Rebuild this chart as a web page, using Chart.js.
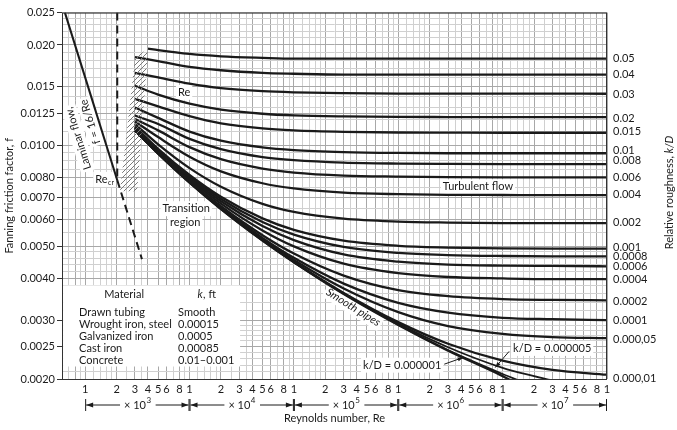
<!DOCTYPE html>
<html>
<head>
<meta charset="utf-8">
<script src="https://cdn.jsdelivr.net/npm/chart.js@4.4.1/dist/chart.umd.min.js"></script>
<style>
  html, body { margin: 0; padding: 0; background: #fff; }
  #wrap { width: 677px; height: 430px; }
</style>
</head>
<body>
<div id="wrap"><canvas id="chart"></canvas></div>
<script>
// Reynolds numbers where the roughness curves were read
const reynolds = [3000, 5000, 1e4, 2e4, 5e4, 1e5, 3e5, 1e6, 3e6, 1e7, 3e7, 1e8];
// top curve starts a bit later, at the hatched band edge
const startRe = [4000, 3000, 3000, 3000, 3000, 3000, 3000, 3000, 3000, 3000, 3000, 3000, 3000, 3000, 3000, 3000, 3000, 3000];

// Fanning friction factor
const kd_05 = [0.0195, 0.0193, 0.0188, 0.0185, 0.0183, 0.0182, 0.0182, 0.0182, 0.0182, 0.0182, 0.0182, 0.0182];
const kd_04 = [0.0184, 0.0179, 0.0172, 0.0168, 0.0165, 0.0164, 0.0163, 0.0163, 0.0163, 0.0163, 0.0163, 0.0163];
const kd_03 = [0.0165, 0.0160, 0.01532, 0.01485, 0.01454, 0.01443, 0.01435, 0.01431, 0.0143, 0.0143, 0.0143, 0.01429];
const kd_02 = [0.0151, 0.0142, 0.01334, 0.01281, 0.01245, 0.01231, 0.01222, 0.01218, 0.01217, 0.01216, 0.01216, 0.01216];
const kd_015 = [0.0138, 0.0131, 0.01224, 0.01165, 0.01125, 0.0111, 0.01099, 0.01094, 0.01093, 0.01092, 0.01092, 0.01092];
const kd_01 = [0.0130, 0.0121, 0.01101, 0.01034, 0.00987, 0.00969, 0.00956, 0.0095, 0.00948, 0.00948, 0.00948, 0.00948];
const kd_008 = [0.0123, 0.0116, 0.01047, 0.00975, 0.00923, 0.00904, 0.00889, 0.00883, 0.00881, 0.0088, 0.0088, 0.0088];
const kd_006 = [0.0120, 0.0111, 0.00989, 0.0091, 0.00853, 0.0083, 0.00813, 0.00807, 0.00804, 0.00803, 0.00803, 0.00803];
const kd_004 = [0.0118, 0.0106, 0.00926, 0.00837, 0.00771, 0.00744, 0.00723, 0.00715, 0.00712, 0.00711, 0.0071, 0.0071];
const kd_002 = [0.0116, 0.01008, 0.00856, 0.00753, 0.00669, 0.00633, 0.00604, 0.00592, 0.00588, 0.00586, 0.00586, 0.00586];
const kd_001 = [0.0114, 0.00978, 0.00817, 0.00703, 0.00605, 0.00559, 0.00519, 0.00501, 0.00495, 0.00492, 0.00491, 0.00491];
const kd_0008 = [0.0113, 0.00971, 0.00809, 0.00692, 0.0059, 0.00541, 0.00497, 0.00477, 0.0047, 0.00467, 0.00466, 0.00466];
const kd_0006 = [0.0113, 0.00965, 0.008, 0.00681, 0.00574, 0.00521, 0.00472, 0.00449, 0.0044, 0.00437, 0.00436, 0.00435];
const kd_0004 = [0.0112, 0.00959, 0.00792, 0.0067, 0.00557, 0.00499, 0.00443, 0.00415, 0.00404, 0.004, 0.00398, 0.00398];
const kd_0002 = [0.0112, 0.00953, 0.00783, 0.00658, 0.00539, 0.00475, 0.00408, 0.00369, 0.00354, 0.00347, 0.00345, 0.00344];
const kd_0001 = [0.0111, 0.00949, 0.00779, 0.00652, 0.00529, 0.00461, 0.00386, 0.00338, 0.00316, 0.00305, 0.00302, 0.003];
const kd_00005 = [0.0111, 0.00948, 0.00777, 0.00649, 0.00524, 0.00454, 0.00373, 0.00317, 0.00288, 0.00273, 0.00267, 0.00265];
const kd_00001 = [0.0111, 0.00947, 0.00775, 0.00646, 0.0052, 0.00448, 0.00362, 0.00296, 0.00255, 0.00227, 0.00213, 0.00206];

// smooth pipes and the two nearly-smooth curves that split from it
const smoothRe = [3000, 5000, 1e4, 2e4, 5e4, 1e5, 3e5, 1e6, 3e6, 1e7, 1.2e7];
const smoothF = [0.0111, 0.00946, 0.00774, 0.00645, 0.00519, 0.00447, 0.00359, 0.0029, 0.00243, 0.00204, 0.00198];
const kd5e6Re = [1e5, 3e5, 1e6, 3e6, 1e7, 2e7, 3e7];
const kd5e6F = [0.00447, 0.00361, 0.00293, 0.00249, 0.00216, 0.00204, 0.00198];
const kd1e6Re = [1e5, 3e5, 1e6, 3e6, 1e7, 2e7];
const kd1e6F = [0.00447, 0.0036, 0.00291, 0.00244, 0.00207, 0.0019];

// laminar line f = 16/Re and the critical Reynolds number
const laminarRe = [640, 2030];
const laminarF = [0.025, 0.00788];
const laminarDashRe = [2030, 3500];
const laminarDashF = [0.00788, 0.00457];
const reCritRe = [2030, 2030];
const reCritF = [0.025, 0.00788];

// hatched transition band (corners)
const bandRe = [3010, 4010, 3150, 2160, 3010];
const bandF = [0.0184, 0.0195, 0.0073, 0.0073, 0.0184];

// axes
const fTicks = [0.002, 0.0025, 0.003, 0.004, 0.005, 0.006, 0.007, 0.008, 0.01, 0.0125, 0.015, 0.02, 0.025];
const fTickLabels = ['0.0020', '0.0025', '0.0030', '0.0040', '0.0050', '0.0060', '0.0070', '0.0080', '0.0100', '0.0125', '0.015', '0.020', '0.025'];
const reLabelMant = [1, 2, 3, 4, 5, 6, 8];
const reGridMant = [1, 1.2, 1.4, 1.6, 1.8, 2, 2.5, 3, 3.5, 4, 5, 6, 7, 8, 9];
const kdLabels = ['0.05', '0.04', '0.03', '0.02', '0.015', '0.01', '0.008', '0.006', '0.004', '0.002', '0.001', '0.0008', '0.0006', '0.0004', '0.0002', '0.0001', '0.000,05', '0.000,01'];
const kdLabelF = [0.01819, 0.01631, 0.01424, 0.01209, 0.011, 0.00967, 0.00903, 0.008, 0.00712, 0.00589, 0.00494, 0.00464, 0.00434, 0.00397, 0.00342, 0.00299, 0.00262, 0.002014];

const materials = ['Drawn tubing', 'Wrought iron, steel', 'Galvanized iron', 'Cast iron', 'Concrete'];
const kFeet = ['Smooth', '0.00015', '0.0005', '0.00085', '0.01\u20130.001'];

const roughCurves = [kd_05, kd_04, kd_03, kd_02, kd_015, kd_01, kd_008, kd_006, kd_004, kd_002,
  kd_001, kd_0008, kd_0006, kd_0004, kd_0002, kd_0001, kd_00005, kd_00001];

const FONT = 'Lato, "Open Sans", sans-serif';
const INK = '#1a1a1a';

function pts(xs, ys) {
  return xs.map((v, i) => ({ x: v, y: ys[i] }));
}

function yGridValues() {
  const out = [];
  for (let v = 20; v < 30; v += 1) out.push(v / 10000);
  for (let v = 30; v < 50; v += 2) out.push(v / 10000);
  for (let v = 50; v < 100; v += 5) out.push(v / 10000);
  for (let v = 100; v <= 250; v += 10) out.push(v / 10000);
  out.push(0.0125);
  return out;
}

function xGridValues() {
  const out = [];
  for (let d = 100; d <= 1e8; d *= 10) {
    reGridMant.forEach(m => {
      const v = m * d;
      if (v >= 600 && v <= 1e8) out.push(v);
    });
  }
  return out;
}

function mantissa(v) {
  const d = Math.pow(10, Math.floor(Math.log10(v) + 1e-9));
  return Math.round(v / d * 100) / 100;
}

function isFLabel(v) {
  return fTicks.some(t => Math.abs(t - v) < 1e-7);
}

// hatch pattern for the transition band
function makeHatch() {
  const c = document.createElement('canvas');
  c.width = 5; c.height = 5;
  const g = c.getContext('2d');
  g.strokeStyle = '#7a7a7a';
  g.lineWidth = 1;
  g.beginPath();
  g.moveTo(0, 5); g.lineTo(5, 0);
  g.moveTo(-1, 1); g.lineTo(1, -1);
  g.moveTo(4, 6); g.lineTo(6, 4);
  g.stroke();
  return g.createPattern(c, 'repeat');
}

const datasets = [];
datasets.push({
  data: pts(bandRe, bandF), borderWidth: 0, borderColor: 'rgba(0,0,0,0)',
  backgroundColor: makeHatch(), fill: 'shape', pointRadius: 0, tension: 0
});
roughCurves.forEach((vals, i) => {
  const xs = reynolds.slice();
  xs[0] = startRe[i];
  datasets.push({
    data: pts(xs, vals), borderColor: INK, borderWidth: 2.3, pointRadius: 0,
    cubicInterpolationMode: 'monotone', fill: false
  });
});
datasets.push({ data: pts(smoothRe, smoothF), borderColor: INK, borderWidth: 2.3, pointRadius: 0, cubicInterpolationMode: 'monotone', fill: false });
datasets.push({ data: pts(kd5e6Re, kd5e6F), borderColor: INK, borderWidth: 1.8, pointRadius: 0, cubicInterpolationMode: 'monotone', fill: false });
datasets.push({ data: pts(kd1e6Re, kd1e6F), borderColor: INK, borderWidth: 1.8, pointRadius: 0, cubicInterpolationMode: 'monotone', fill: false });
datasets.push({ data: pts(laminarRe, laminarF), borderColor: INK, borderWidth: 2, pointRadius: 0, fill: false });
datasets.push({ data: pts(laminarDashRe, laminarDashF), borderColor: INK, borderWidth: 2, borderDash: [8, 5], pointRadius: 0, fill: false });
datasets.push({ data: pts(reCritRe, reCritF), borderColor: INK, borderWidth: 2, borderDash: [8, 5], pointRadius: 0, fill: false });

// text drawn on a white patch so the grid does not run through it
function patchText(ctx, txt, px, py, size, align, rot, italic) {
  ctx.save();
  ctx.translate(px, py);
  ctx.rotate(rot || 0);
  ctx.font = (italic ? 'italic ' : '') + size + 'px ' + FONT;
  const w = ctx.measureText(txt).width;
  const x0 = align === 'left' ? 0 : align === 'right' ? -w : -w / 2;
  ctx.fillStyle = '#fff';
  ctx.fillRect(x0 - 2, -size / 2 - 2, w + 4, size + 4);
  ctx.fillStyle = INK;
  ctx.textAlign = align || 'center';
  ctx.textBaseline = 'middle';
  ctx.fillText(txt, 0, 0);
  ctx.restore();
  return w;
}

function arrow(ctx, x1, y1, x2, y2) {
  const a = Math.atan2(y2 - y1, x2 - x1);
  ctx.beginPath();
  ctx.moveTo(x1, y1); ctx.lineTo(x2, y2);
  ctx.stroke();
  ctx.beginPath();
  ctx.moveTo(x2, y2);
  ctx.lineTo(x2 - 6 * Math.cos(a - 0.35), y2 - 6 * Math.sin(a - 0.35));
  ctx.lineTo(x2 - 6 * Math.cos(a + 0.35), y2 - 6 * Math.sin(a + 0.35));
  ctx.closePath();
  ctx.fill();
}

const notes = {
  id: 'notes',
  beforeDatasetsDraw(chart) {
    const { ctx, scales: { x, y } } = chart;
    const X = v => x.getPixelForValue(v);
    const Y = v => y.getPixelForValue(v);

    // material table
    const bx0 = X(615), bx1 = X(30500), by0 = Y(0.00381), by1 = Y(0.00218);
    ctx.save();
    ctx.fillStyle = '#fff';
    ctx.fillRect(bx0, by0, bx1 - bx0, by1 - by0);
    ctx.fillStyle = INK;
    ctx.textBaseline = 'middle';
    ctx.font = '11px ' + FONT;
    ctx.textAlign = 'center';
    ctx.fillText('Material', bx0 + 61, by0 + 9);
    ctx.font = 'italic 11px ' + FONT;
    ctx.fillText('k', bx0 + 137, by0 + 9);
    ctx.font = '11px ' + FONT;
    ctx.textAlign = 'left';
    ctx.fillText(', ft', bx0 + 140, by0 + 9);
    materials.forEach((m, i) => {
      ctx.fillText(m, bx0 + 16, by0 + 27 + i * 11.9);
      ctx.fillText(kFeet[i], bx0 + 115, by0 + 27 + i * 11.9);
    });
    ctx.restore();

    // laminar flow text, laid along the laminar line
    const ang = Math.atan2(Y(laminarF[0]) - Y(laminarF[1]), X(laminarRe[0]) - X(laminarRe[1]));
    patchText(ctx, 'Laminar flow,', X(857), Y(0.0105), 11, 'center', ang);
    patchText(ctx, 'f = 16/Re', X(1117), Y(0.01178), 11, 'center', ang);

    // Re_cr
    ctx.save();
    const rx = X(1250), ry = Y(0.00789);
    ctx.fillStyle = '#fff';
    ctx.fillRect(rx - 2, ry - 8, 22, 15);
    ctx.fillStyle = INK;
    ctx.font = '11px ' + FONT;
    ctx.textAlign = 'left';
    ctx.textBaseline = 'middle';
    ctx.fillText('Re', rx, ry);
    const rw = ctx.measureText('Re').width;
    ctx.font = '7px ' + FONT;
    ctx.fillText('cr', rx + rw + 0.5, ry + 3);
    ctx.restore();

    patchText(ctx, 'Re', X(8870), Y(0.01443), 11, 'center');
    patchText(ctx, 'Transition', X(9300), Y(0.00647), 11, 'center');
    patchText(ctx, 'region', X(9100), Y(0.00589), 11, 'center');
    patchText(ctx, 'Turbulent flow', X(5.8e6), Y(0.00752), 11, 'center');
    patchText(ctx, 'Smooth pipes', X(3.7e5), Y(0.00328), 11, 'center', 0.56, true);

    ctx.save();
    const t1 = X(4.6e5), t1y = Y(0.0022);
    const w1 = patchText(ctx, 'k/D = 0.000001', t1, t1y, 11, 'left');
    const t2 = X(1.26e7), t2y = Y(0.00247);
    patchText(ctx, 'k/D = 0.000005', t2, t2y, 11, 'left');
    ctx.strokeStyle = INK; ctx.fillStyle = INK; ctx.lineWidth = 1;
    arrow(ctx, t1 + w1 + 3, t1y - 1, X(4.2e6), Y(0.00232));
    arrow(ctx, t2 - 4, t2y + 3, X(8.5e6), Y(0.00218) + 1);
    ctx.restore();
  },
  afterDraw(chart) {
    const { ctx, chartArea: a, scales: { x } } = chart;
    ctx.save();
    ctx.strokeStyle = '#333';
    ctx.lineWidth = 1;
    ctx.strokeRect(a.left + 0.5, a.top + 0.5, a.right - a.left - 1, a.bottom - a.top);

    // decade brackets under the Reynolds axis
    const yA = 405;
    ctx.fillStyle = INK;
    ctx.strokeStyle = INK;
    for (let n = 3; n < 8; n++) {
      const p0 = x.getPixelForValue(Math.pow(10, n));
      const p1 = x.getPixelForValue(Math.pow(10, n + 1));
      ctx.font = '11px ' + FONT;
      const wa = ctx.measureText('\u00d7 10').width;
      ctx.font = '8px ' + FONT;
      const wb = ctx.measureText(String(n)).width;
      const mid = (p0 + p1) / 2;
      const s = mid - (wa + wb) / 2;
      ctx.font = '11px ' + FONT;
      ctx.textAlign = 'left';
      ctx.textBaseline = 'middle';
      ctx.fillText('\u00d7 10', s, yA);
      ctx.font = '8px ' + FONT;
      ctx.fillText(String(n), s + wa + 0.5, yA - 5);
      ctx.lineWidth = 1;
      ctx.beginPath();
      ctx.moveTo(p0 + 0.5, yA - 6); ctx.lineTo(p0 + 0.5, yA + 6);
      ctx.moveTo(p1 - 0.5, yA - 6); ctx.lineTo(p1 - 0.5, yA + 6);
      ctx.moveTo(p0 + 1, yA); ctx.lineTo(s - 4, yA);
      ctx.moveTo(s + wa + wb + 5, yA); ctx.lineTo(p1 - 1, yA);
      ctx.stroke();
      ctx.beginPath();
      ctx.moveTo(p0 + 1, yA); ctx.lineTo(p0 + 8, yA - 2.5); ctx.lineTo(p0 + 8, yA + 2.5); ctx.closePath();
      ctx.moveTo(p1 - 1, yA); ctx.lineTo(p1 - 8, yA - 2.5); ctx.lineTo(p1 - 8, yA + 2.5); ctx.closePath();
      ctx.fill();
    }

    // right-hand axis title, reading upward
    ctx.translate(669, (a.top + a.bottom) / 2 - 4);
    ctx.rotate(-Math.PI / 2);
    ctx.font = '11px ' + FONT;
    ctx.textBaseline = 'middle';
    const tw = ctx.measureText('Relative roughness, ').width;
    const kw = ctx.measureText('k/D').width;
    ctx.textAlign = 'left';
    ctx.fillText('Relative roughness, ', -(tw + kw) / 2, 0);
    ctx.font = 'italic 11px ' + FONT;
    ctx.fillText('k/D', -(tw + kw) / 2 + tw, 0);
    ctx.restore();
  }
};

new Chart(document.getElementById('chart'), {
  type: 'line',
  data: { datasets },
  options: {
    responsive: true,
    maintainAspectRatio: false,
    animation: false,
    layout: { padding: { top: 7, left: 0, right: 0, bottom: 0 } },
    plugins: { legend: { display: false }, tooltip: { enabled: false } },
    scales: {
      x: {
        type: 'logarithmic', min: 600, max: 1e8,
        afterBuildTicks: s => { s.ticks = xGridValues().map(v => ({ value: v })); },
        afterFit: s => { s.height = 51; },
        grid: {
          color: c => reLabelMant.includes(mantissa(c.tick.value)) ? '#a8a8a8' : '#d0d0d0',
          lineWidth: 1, drawTicks: false
        },
        border: { display: false },
        ticks: {
          autoSkip: false, maxRotation: 0, padding: 4, color: INK,
          font: { family: FONT, size: 11 },
          callback: v => (v >= 1000 && reLabelMant.includes(mantissa(v))) ? String(mantissa(v)) : ''
        },
        title: { display: true, text: 'Reynolds number, Re', color: INK, font: { family: FONT, size: 11 }, padding: { top: 0, bottom: 5 } }
      },
      y: {
        type: 'logarithmic', min: 0.002, max: 0.025,
        afterBuildTicks: s => { s.ticks = yGridValues().map(v => ({ value: v })); },
        afterFit: s => { s.width = 62; },
        grid: {
          color: c => isFLabel(c.tick.value) ? '#a8a8a8' : '#d0d0d0',
          tickColor: c => isFLabel(c.tick.value) ? '#333' : 'rgba(0,0,0,0)',
          tickLength: 5, lineWidth: 1
        },
        border: { display: false },
        ticks: {
          autoSkip: false, padding: 2, color: INK,
          font: { family: FONT, size: 11 },
          callback: v => {
            const i = fTicks.findIndex(t => Math.abs(t - v) < 1e-7);
            return i >= 0 ? fTickLabels[i] : '';
          }
        },
        title: { display: true, text: 'Fanning friction factor, f', color: INK, font: { family: FONT, size: 11 }, padding: { top: 3, bottom: 0 } }
      },
      y2: {
        type: 'logarithmic', position: 'right', min: 0.002, max: 0.025,
        afterBuildTicks: s => { s.ticks = kdLabelF.map(v => ({ value: v })); },
        afterFit: s => { s.width = 70; },
        grid: { display: false, drawTicks: false },
        border: { display: false },
        ticks: {
          autoSkip: false, padding: 6, color: INK,
          font: { family: FONT, size: 11 },
          callback: (v, i) => kdLabels[i]
        }
      }
    }
  },
  plugins: [notes]
});
</script>
</body>
</html>
